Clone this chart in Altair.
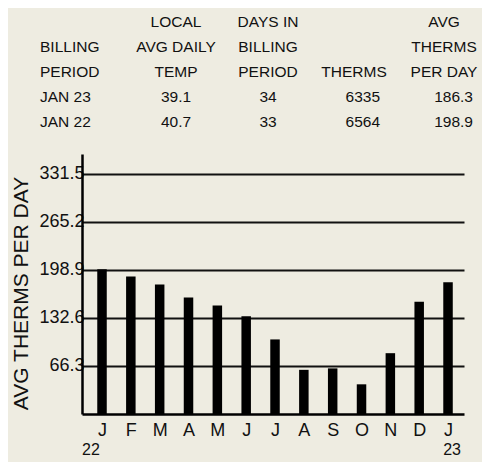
import json
import altair as alt
import pandas as pd

# ---- data ----
keys = ["2022-01", "2022-02", "2022-03", "2022-04", "2022-05", "2022-06", "2022-07",
        "2022-08", "2022-09", "2022-10", "2022-11", "2022-12", "2023-01"]
letters = ["J", "F", "M", "A", "M", "J", "J", "A", "S", "O", "N", "D", "J"]
avg_therms = [200, 190, 179, 161, 150, 135, 103, 61, 63, 41, 84, 155, 182]
y_ticks = [66.3, 132.6, 198.9, 265.2, 331.5]
years = ["22", "23"]

header_lines = [
    ["", "BILLING", "PERIOD"],
    ["LOCAL", "AVG DAILY", "TEMP"],
    ["DAYS IN", "BILLING", "PERIOD"],
    ["", "", "THERMS"],
    ["AVG", "THERMS", "PER DAY"],
]
periods = ["JAN 23", "JAN 22"]
temps = ["39.1", "40.7"]
days = ["34", "33"]
therms = ["6335", "6564"]
per_day = ["186.3", "198.9"]

FONT = "Liberation Sans"
INK = "#111111"
W, H = 382, 260

df = pd.DataFrame({"key": keys, "letter": letters, "v": avg_therms})
label_map = json.dumps(dict(zip(keys, letters)))

xscale = alt.Scale(type="point", domain=keys, padding=0.624, align=0.556)

bars = alt.Chart(df).mark_bar(width=9.5, color="black").encode(
    x=alt.X("key:N", sort=keys, scale=xscale,
            axis=alt.Axis(title=None, labelExpr=f"{label_map}[datum.value]",
                          labelAngle=0, labelFontSize=18, labelColor=INK,
                          labelFont=FONT, ticks=False, tickSize=0, labelPadding=7,
                          domainColor="black", domainWidth=2.5, grid=False)),
    y=alt.Y("v:Q", scale=alt.Scale(domain=[0, 359.1], nice=False, zero=True),
            axis=alt.Axis(values=y_ticks, format=".1f", title="AVG THERMS PER DAY",
                          titleFont=FONT, titleFontSize=21, titleFontWeight="normal",
                          titleColor=INK, titleX=-55, titleY=139, titleAlign="center",
                          titleBaseline="alphabetic", titleAngle=270,
                          labelFont=FONT, labelFontSize=18, labelColor=INK,
                          labelPadding=-2, ticks=False, tickSize=0,
                          domainColor="black", domainWidth=2.5,
                          grid=True, gridColor=INK, gridWidth=2)),
)

def year_layer(key, txt, dx):
    ydf = pd.DataFrame({"key": [key], "t": [txt]})
    return alt.Chart(ydf).mark_text(font=FONT, fontSize=16, color=INK, dx=dx,
                                    baseline="alphabetic").encode(
        x=alt.X("key:N", sort=keys, scale=xscale),
        y=alt.value(H + 41),
        text="t:N",
    )

year_text = alt.layer(year_layer(keys[0], years[0], -11),
                      year_layer(keys[-1], years[1], 4))

# ---- table ----
row_y = [-127, -100.5, -77, -51, -27]
col_x = [-42, 94, 186, 272, 362]

def text_layer(items, x, align):
    tdf = pd.DataFrame(items, columns=["row", "t"])
    return alt.Chart(tdf).mark_text(font=FONT, fontSize=15.5, color=INK, align=align,
                                    baseline="alphabetic").encode(
        x=alt.value(x),
        y=alt.Y("row:O", scale=alt.Scale(type="point", domain=[0, 1, 2, 3, 4],
                                          padding=0,
                                          range=[row_y[0], row_y[-1]]), axis=None),
        text="t:N",
    )

layers = []
col0 = [(r, s) for r, s in enumerate(header_lines[0]) if s] + \
       [(3 + i, p) for i, p in enumerate(periods)]
layers.append(text_layer(col0, col_x[0], "left"))
for c, vals in ((1, temps), (2, days)):
    items = [(r, s) for r, s in enumerate(header_lines[c]) if s] + \
            [(3 + i, v) for i, v in enumerate(vals)]
    layers.append(text_layer(items, col_x[c], "center"))
for c, vals, rx in ((3, therms, 298), (4, per_day, 391)):
    items = [(r, s) for r, s in enumerate(header_lines[c]) if s]
    layers.append(text_layer(items, col_x[c], "center"))
    layers.append(text_layer([(3 + i, v) for i, v in enumerate(vals)], rx, "right"))

table = alt.layer(*layers)

chart = alt.layer(bars, year_text, table).resolve_scale(y="independent").properties(
    width=W, height=H,
    autosize=alt.AutoSizeParams(type="none"),
    padding={"left": 74, "top": 146, "right": 18, "bottom": 48},
    background="#EEECE1",
).configure_view(stroke=None).configure_text(font=FONT)

chart.save("out.html", embed_options={"renderer": "svg", "actions": False})
